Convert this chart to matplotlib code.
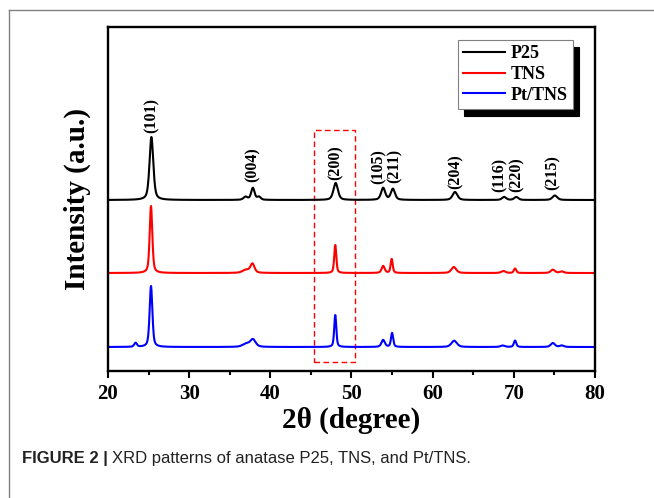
import numpy as np
import matplotlib
matplotlib.use("Agg")
import matplotlib.pyplot as plt
from matplotlib.lines import Line2D
from matplotlib.patches import Rectangle

# Peak tables: 2theta (deg), height (a.u.), FWHM (deg)
p25_pos = [25.35, 36.95, 37.85, 38.6, 48.05, 53.9, 55.1, 62.75, 68.8, 70.3, 75.05]
p25_height = [63, 3, 12, 3, 17, 12, 11, 8, 3, 3, 4.5]
p25_fwhm = [0.55, 0.6, 0.5, 0.5, 0.65, 0.6, 0.6, 0.7, 0.6, 0.6, 0.7]

tns_pos = [25.3, 37.0, 37.8, 48.0, 53.9, 54.95, 62.6, 68.7, 70.15, 74.8, 75.9]
tns_height = [67, 3, 9, 28, 7, 14, 6, 2, 4.5, 3.3, 1.5]
tns_fwhm = [0.38, 1.0, 0.6, 0.3, 0.45, 0.3, 0.7, 0.6, 0.35, 0.6, 0.6]

pt_pos = [23.4, 25.3, 37.0, 37.85, 48.0, 53.9, 55.0, 62.65, 68.6, 70.15, 74.8, 75.9]
pt_height = [4, 61, 3, 7.5, 32, 7, 14, 6.3, 1.5, 6.5, 4, 1.5]
pt_fwhm = [0.4, 0.4, 1.0, 0.8, 0.3, 0.5, 0.32, 0.8, 0.6, 0.35, 0.6, 0.6]

names = ["P25", "TNS", "Pt/TNS"]
colors = ["black", "red", "blue"]
offsets = [171, 98, 24]

hkl = ["(101)", "(004)", "(200)", "(105)", "(211)", "(204)", "(116)", "(220)", "(215)"]
hkl_x = [25.4, 37.8, 48.0, 53.3, 55.3, 62.8, 68.3, 70.4, 74.8]
hkl_y = [238, 189, 191, 187, 188, 182, 179, 179, 181]

# highlighted (200) region
box_x = (45.33, 50.49)
box_y = (9, 241)

two_theta = np.arange(20, 80.001, 0.02)


def pattern(pos, height, fwhm, eta=0.5):
    """Sum of pseudo-Voigt peaks on a flat baseline."""
    y = np.zeros_like(two_theta)
    for p, h, w in zip(pos, height, fwhm):
        d = (two_theta - p) / (w / 2)
        gauss = np.exp(-np.log(2) * d ** 2)
        lorentz = 1 / (1 + d ** 2)
        y += h * (eta * lorentz + (1 - eta) * gauss)
    return y


curves = [
    pattern(p25_pos, p25_height, p25_fwhm),
    pattern(tns_pos, tns_height, tns_fwhm),
    pattern(pt_pos, pt_height, pt_fwhm),
]

serif = ["Liberation Serif", "DejaVu Serif"]

fig = plt.figure(figsize=(6.54, 4.98), dpi=100)
ax = fig.add_axes([0.1651, 0.2550, 0.7447, 0.6908])

for y, off, c, n in zip(curves, offsets, colors, names):
    ax.plot(two_theta, y + off, color=c, lw=1.5, label=n)

for lab, x, y in zip(hkl, hkl_x, hkl_y):
    ax.text(x, y, lab, rotation=90, ha="center", va="bottom",
            family=serif, fontweight="bold", fontsize=11.5)

ax.add_patch(Rectangle((box_x[0], box_y[0]), box_x[1] - box_x[0], box_y[1] - box_y[0],
                       fill=False, edgecolor="red", lw=1.0, ls=(0, (4, 2.5))))

ax.set_xlim(20, 80)
ax.set_ylim(0, 344)
ax.set_xticks(np.arange(20, 81, 10))
ax.set_xticks(np.arange(25, 80, 10), minor=True)
ax.set_yticks([])
ax.tick_params(axis="x", which="major", direction="out", length=5, width=1.5,
               labelsize=15, pad=4)
ax.tick_params(axis="x", which="minor", direction="out", length=3, width=1.5)
for lbl in ax.get_xticklabels():
    lbl.set_family(serif)
    lbl.set_fontweight("bold")
for s in ax.spines.values():
    s.set_linewidth(1.7)

ax.set_xlabel("2\u03b8 (degree)", family=serif, fontweight="bold", fontsize=21, labelpad=2)
ax.set_ylabel("Intensity (a.u.)", family=serif, fontweight="bold", fontsize=21, labelpad=12)

leg = ax.legend(loc="upper left", bbox_to_anchor=(0.7187, 0.962), borderaxespad=0,
                prop={"family": serif, "weight": "bold", "size": 13},
                handlelength=2.3, handletextpad=0.3, borderpad=0.3, labelspacing=0.2,
                fancybox=False, framealpha=1,
                shadow={"ox": 4.5, "oy": -4.8, "color": "black", "alpha": 1})
leg.get_frame().set_edgecolor("#808080")
leg.get_frame().set_linewidth(0.8)
for h in leg.get_lines():
    h.set_linewidth(1.5)

# page frame lines (top and left)
fig.add_artist(Line2D([9 / 654, 1], [1 - 10 / 498, 1 - 10 / 498], color="#808080", lw=1))
fig.add_artist(Line2D([9 / 654, 9 / 654], [0, 1 - 10 / 498], color="#808080", lw=1))

# caption
cap_y = 1 - 458 / 498
t1 = fig.text(22 / 654, cap_y, "FIGURE 2 |", family=["Liberation Sans Narrow", "Liberation Sans"],
              fontweight="bold", fontsize=12, va="center", color="#222222")
fig.canvas.draw()
bb = t1.get_window_extent()
fig.text((bb.x1 + 4) / 654, cap_y, "XRD patterns of anatase P25, TNS, and Pt/TNS.",
         family=["Liberation Sans Narrow", "Liberation Sans"], fontsize=12, va="center",
         color="#222222")

fig.savefig("out.png", dpi=100)
